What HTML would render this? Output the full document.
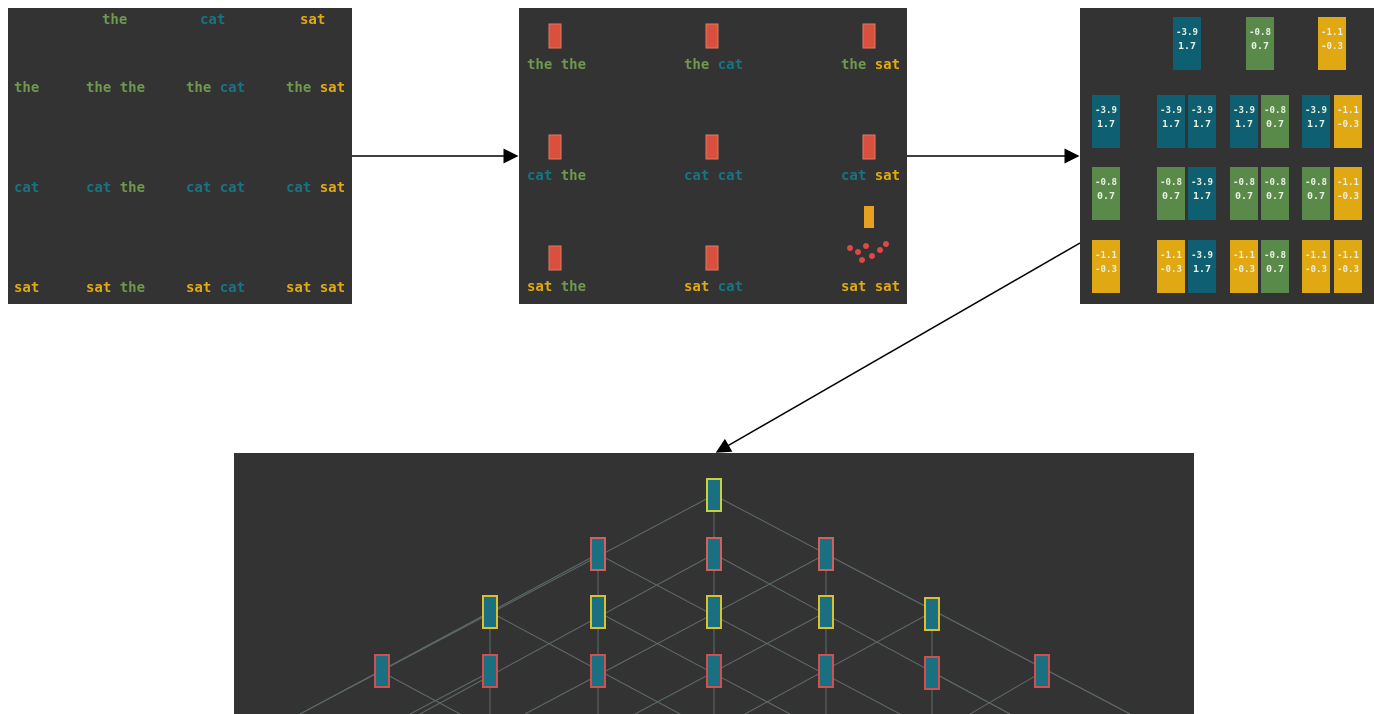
<!DOCTYPE html>
<html><head><meta charset="utf-8"><style>
body{margin:0;width:1374px;height:714px;background:#fff;overflow:hidden;position:relative;font-family:"DejaVu Sans Mono","Liberation Mono",monospace}
.p{position:absolute;background:#333}
.t{position:absolute;font-size:14px;font-weight:bold;white-space:nowrap}
.g{color:#6f9a4e}.c{color:#157584}.s{color:#e2aa10}
</style></head><body>
<div class="p" style="left:8px;top:8px;width:344px;height:296px"></div>
<div class="p" style="left:519px;top:8px;width:388px;height:296px"></div>
<div class="p" style="left:1080px;top:8px;width:294px;height:296px"></div>
<div class="p" style="left:234px;top:453px;width:960px;height:261px"></div>

<div class="t g" style="left:102px;top:12px">the</div>
<div class="t c" style="left:200px;top:12px">cat</div>
<div class="t s" style="left:300px;top:12px">sat</div>
<div class="t g" style="left:14px;top:80px">the</div>
<div class="t c" style="left:14px;top:180px">cat</div>
<div class="t s" style="left:14px;top:280px">sat</div>
<div class="t" style="left:86px;top:80px"><span class="g">the the</span></div>
<div class="t" style="left:186px;top:80px"><span class="g">the </span><span class="c">cat</span></div>
<div class="t" style="left:286px;top:80px"><span class="g">the </span><span class="s">sat</span></div>
<div class="t" style="left:86px;top:180px"><span class="c">cat </span><span class="g">the</span></div>
<div class="t" style="left:186px;top:180px"><span class="c">cat cat</span></div>
<div class="t" style="left:286px;top:180px"><span class="c">cat </span><span class="s">sat</span></div>
<div class="t" style="left:86px;top:280px"><span class="s">sat </span><span class="g">the</span></div>
<div class="t" style="left:186px;top:280px"><span class="s">sat </span><span class="c">cat</span></div>
<div class="t" style="left:286px;top:280px"><span class="s">sat sat</span></div>

<div class="t" style="left:527px;top:57px"><span class="g">the the</span></div>
<div class="t" style="left:684px;top:57px"><span class="g">the </span><span class="c">cat</span></div>
<div class="t" style="left:841px;top:57px"><span class="g">the </span><span class="s">sat</span></div>
<div class="t" style="left:527px;top:168px"><span class="c">cat </span><span class="g">the</span></div>
<div class="t" style="left:684px;top:168px"><span class="c">cat cat</span></div>
<div class="t" style="left:841px;top:168px"><span class="c">cat </span><span class="s">sat</span></div>
<div class="t" style="left:527px;top:279px"><span class="s">sat </span><span class="g">the</span></div>
<div class="t" style="left:684px;top:279px"><span class="s">sat </span><span class="c">cat</span></div>
<div class="t" style="left:841px;top:279px"><span class="s">sat sat</span></div>

<svg width="1374" height="714" style="position:absolute;left:0;top:0">
<defs><marker id="a" markerWidth="10" markerHeight="10" refX="9" refY="5" orient="auto"><path d="M0,0 L10,5 L0,10 z" fill="#000"/></marker></defs>
<g fill="#d9503f" stroke="#e07a60">
<rect x="549" y="24" width="12" height="24"/><rect x="706" y="24" width="12" height="24"/><rect x="863" y="24" width="12" height="24"/>
<rect x="549" y="135" width="12" height="24"/><rect x="706" y="135" width="12" height="24"/><rect x="863" y="135" width="12" height="24"/>
<rect x="549" y="246" width="12" height="24"/><rect x="706" y="246" width="12" height="24"/>
</g>
<rect x="864" y="206" width="10" height="22" fill="#e8a020"/>
<g fill="#e04848"><circle cx="850" cy="248" r="3"/><circle cx="858" cy="252" r="3"/><circle cx="866" cy="246" r="3"/><circle cx="872" cy="256" r="3"/><circle cx="880" cy="250" r="3"/><circle cx="886" cy="244" r="3"/><circle cx="862" cy="260" r="3"/></g>
<g stroke="#000" stroke-width="1.5" marker-end="url(#a)">
<line x1="352" y1="156" x2="517" y2="156"/><line x1="907" y1="156" x2="1078" y2="156"/><line x1="1080" y1="243" x2="717" y2="452"/>
</g>
<g stroke="#6a7a7a" stroke-width="1" opacity="0.8">
<line x1="714" y1="495" x2="300" y2="714"/><line x1="714" y1="495" x2="1130" y2="714"/>
<line x1="598" y1="554" x2="900" y2="714"/><line x1="826" y1="554" x2="525" y2="714"/>
<line x1="598" y1="554" x2="300" y2="714"/><line x1="826" y1="554" x2="1130" y2="714"/>
<line x1="714" y1="554" x2="420" y2="714"/><line x1="714" y1="554" x2="1010" y2="714"/>
<line x1="490" y1="612" x2="680" y2="714"/><line x1="932" y1="612" x2="745" y2="714"/>
<line x1="598" y1="612" x2="790" y2="714"/><line x1="826" y1="612" x2="635" y2="714"/>
<line x1="382" y1="672" x2="460" y2="714"/><line x1="1042" y1="672" x2="970" y2="714"/>
<line x1="490" y1="672" x2="410" y2="714"/><line x1="932" y1="672" x2="1010" y2="714"/>
<line x1="598" y1="554" x2="598" y2="714"/><line x1="714" y1="495" x2="714" y2="714"/><line x1="826" y1="554" x2="826" y2="714"/>
<line x1="490" y1="612" x2="490" y2="714"/><line x1="932" y1="612" x2="932" y2="714"/>
</g>
<g stroke-width="2" fill="#1a7080">
<rect x="707" y="479" width="14" height="32" stroke="#c8d040"/>
<rect x="591" y="538" width="14" height="32" stroke="#d06060"/><rect x="707" y="538" width="14" height="32" stroke="#d06060"/><rect x="819" y="538" width="14" height="32" stroke="#d06060"/>
<rect x="483" y="596" width="14" height="32" stroke="#d8c030"/><rect x="591" y="596" width="14" height="32" stroke="#d8c030"/><rect x="707" y="596" width="14" height="32" stroke="#d8c030"/><rect x="819" y="596" width="14" height="32" stroke="#d8c030"/><rect x="925" y="598" width="14" height="32" stroke="#d8c030"/>
<rect x="375" y="655" width="14" height="32" stroke="#d05050"/><rect x="483" y="655" width="14" height="32" stroke="#d05050"/><rect x="591" y="655" width="14" height="32" stroke="#d05050"/><rect x="707" y="655" width="14" height="32" stroke="#d05050"/><rect x="819" y="655" width="14" height="32" stroke="#d05050"/><rect x="925" y="657" width="14" height="32" stroke="#d05050"/><rect x="1035" y="655" width="14" height="32" stroke="#d05050"/>
</g>
</svg>
<svg width="1374" height="714" style="position:absolute;left:0;top:0" font-family="DejaVu Sans Mono,monospace" font-size="10" font-weight="bold" fill="#e8f0e0" text-anchor="middle">
<defs>
<g id="cb"><rect width="28" height="53" fill="#0f5f72"/><text x="14" y="18" textLength="22" lengthAdjust="spacingAndGlyphs">-3.9</text><text x="14" y="32">1.7</text></g>
<g id="cg"><rect width="28" height="53" fill="#5a8a4a"/><text x="14" y="18" textLength="22" lengthAdjust="spacingAndGlyphs">-0.8</text><text x="14" y="32">0.7</text></g>
<g id="cy"><rect width="28" height="53" fill="#e0a812"/><text x="14" y="18" textLength="22" lengthAdjust="spacingAndGlyphs">-1.1</text><text x="14" y="32" textLength="22" lengthAdjust="spacingAndGlyphs">-0.3</text></g>
</defs>
<use href="#cb" x="1173" y="17"/><use href="#cg" x="1246" y="17"/><use href="#cy" x="1318" y="17"/>
<use href="#cb" x="1092" y="95"/><use href="#cb" x="1157" y="95"/><use href="#cb" x="1188" y="95"/><use href="#cb" x="1230" y="95"/><use href="#cg" x="1261" y="95"/><use href="#cb" x="1302" y="95"/><use href="#cy" x="1334" y="95"/>
<use href="#cg" x="1092" y="167"/><use href="#cg" x="1157" y="167"/><use href="#cb" x="1188" y="167"/><use href="#cg" x="1230" y="167"/><use href="#cg" x="1261" y="167"/><use href="#cg" x="1302" y="167"/><use href="#cy" x="1334" y="167"/>
<use href="#cy" x="1092" y="240"/><use href="#cy" x="1157" y="240"/><use href="#cb" x="1188" y="240"/><use href="#cy" x="1230" y="240"/><use href="#cg" x="1261" y="240"/><use href="#cy" x="1302" y="240"/><use href="#cy" x="1334" y="240"/>
</svg>
</body></html>
